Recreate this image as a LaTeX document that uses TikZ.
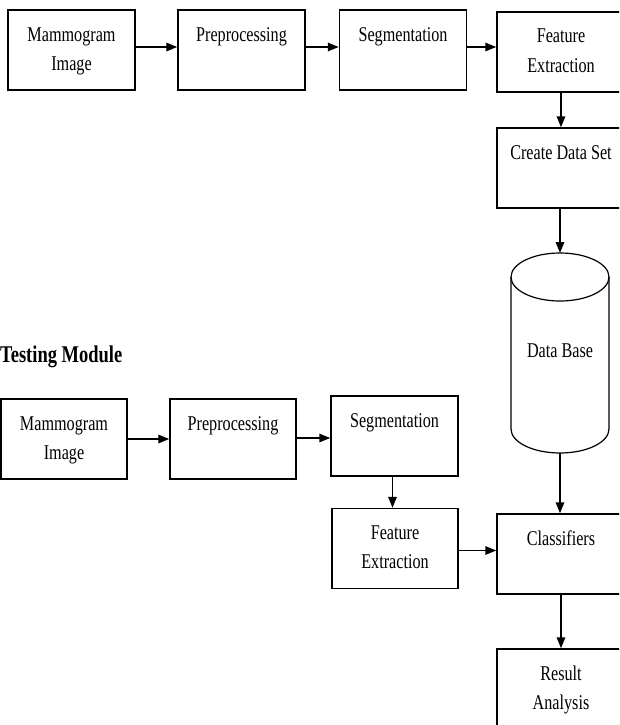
\documentclass[tikz,border=0pt]{standalone}
\usepackage{fontspec}
\setmainfont[FakeStretch=0.77]{Liberation Serif}
\usetikzlibrary{arrows.meta}

% text of a block: lines hang from the top edge of the box
\newcommand\blocktext[1]{\parbox[c][80pt][t]{124pt}{\centering\fontsize{21}{29}\selectfont\rule{0pt}{31pt}#1}}

\tikzset{
  blk/.style={draw, line width=1.5pt, inner sep=0pt, minimum width=127pt, minimum height=80pt},
  flow/.style={line width=1.6pt, -{Triangle[length=11pt,width=8.5pt]}},
  drum/.style={line width=1.2pt}
}

\begin{document}
\begin{tikzpicture}[x=1pt,y=-1pt]
\useasboundingbox (0,0) rectangle (619,725);
\clip (0,0) rectangle (619,725);

% ---- training chain ----
\node[blk] (mi1) at (71.5,50) {\blocktext{Mammogram\\Image}};
\node[blk] (pp1) at (241.5,50) {\blocktext{Preprocessing}};
\node[blk] (sg1) at (403,50) {\blocktext{Segmentation}};
\node[blk, minimum width=128pt] (fe1) at (561,52) {\blocktext{Feature\\Extraction}};
\node[blk, minimum width=128pt] (cd1) at (561,168) {\blocktext{Create Data Set}};

% ---- data base drum ----
\coordinate (dbtop) at (560,253);
\coordinate (dbbot) at (560,453);
\draw[drum] (560,277) ellipse [x radius=49pt, y radius=24pt];
\draw[drum] (511,277) -- (511,429)
  arc[start angle=180, end angle=360, x radius=49pt, y radius=24pt]
  -- (609,277);
\node[font=\fontsize{21}{25}\selectfont, anchor=base] (db) at (560,357) {Data Base};

% ---- testing chain ----
\node[font=\fontsize{24}{28}\selectfont\bfseries, anchor=base west, inner sep=0pt] (tm) at (0,362) {Testing Module};
\node[blk, minimum width=126pt] (mi2) at (64,439) {\blocktext{Mammogram\\Image}};
\node[blk, minimum width=126pt] (pp2) at (233,439) {\blocktext{Preprocessing}};
\node[blk] (sg2) at (394.5,436) {\blocktext{Segmentation}};
\node[blk, minimum width=126pt] (fe2) at (395,548.5) {\blocktext{Feature\\Extraction}};
\node[blk, minimum width=128pt] (cl) at (561,554) {\blocktext{Classifiers}};
\node[blk, minimum width=128pt] (ra) at (561,689) {\blocktext{Result\\Analysis}};

% ---- connectors ----
\draw[flow] ([yshift=3pt]mi1.east) -- ([yshift=3pt]mi1.east -| pp1.west);
\draw[flow] ([yshift=3pt]pp1.east) -- ([yshift=3pt]pp1.east -| sg1.west);
\draw[flow] ([yshift=3pt]sg1.east) -- ([yshift=3pt]sg1.east -| fe1.west);
\draw[flow] (fe1.south) -- (cd1.north);
\draw[flow] (cd1.south -| dbtop) -- (dbtop);
\draw[flow] (dbbot) -- (dbbot |- cl.north);

\draw[flow] (mi2.east) -- (mi2.east -| pp2.west);
\draw[flow] ([yshift=1pt]pp2.east) -- ([yshift=1pt]pp2.east -| sg2.west);
\draw[flow] ([xshift=-2pt]sg2.south) -- ([xshift=-2pt]sg2.south |- fe2.north);
\draw[flow] ([yshift=-2pt]fe2.east) -- ([yshift=-2pt]fe2.east -| cl.west);
\draw[flow] (cl.south) -- (ra.north);
\end{tikzpicture}
\end{document}
